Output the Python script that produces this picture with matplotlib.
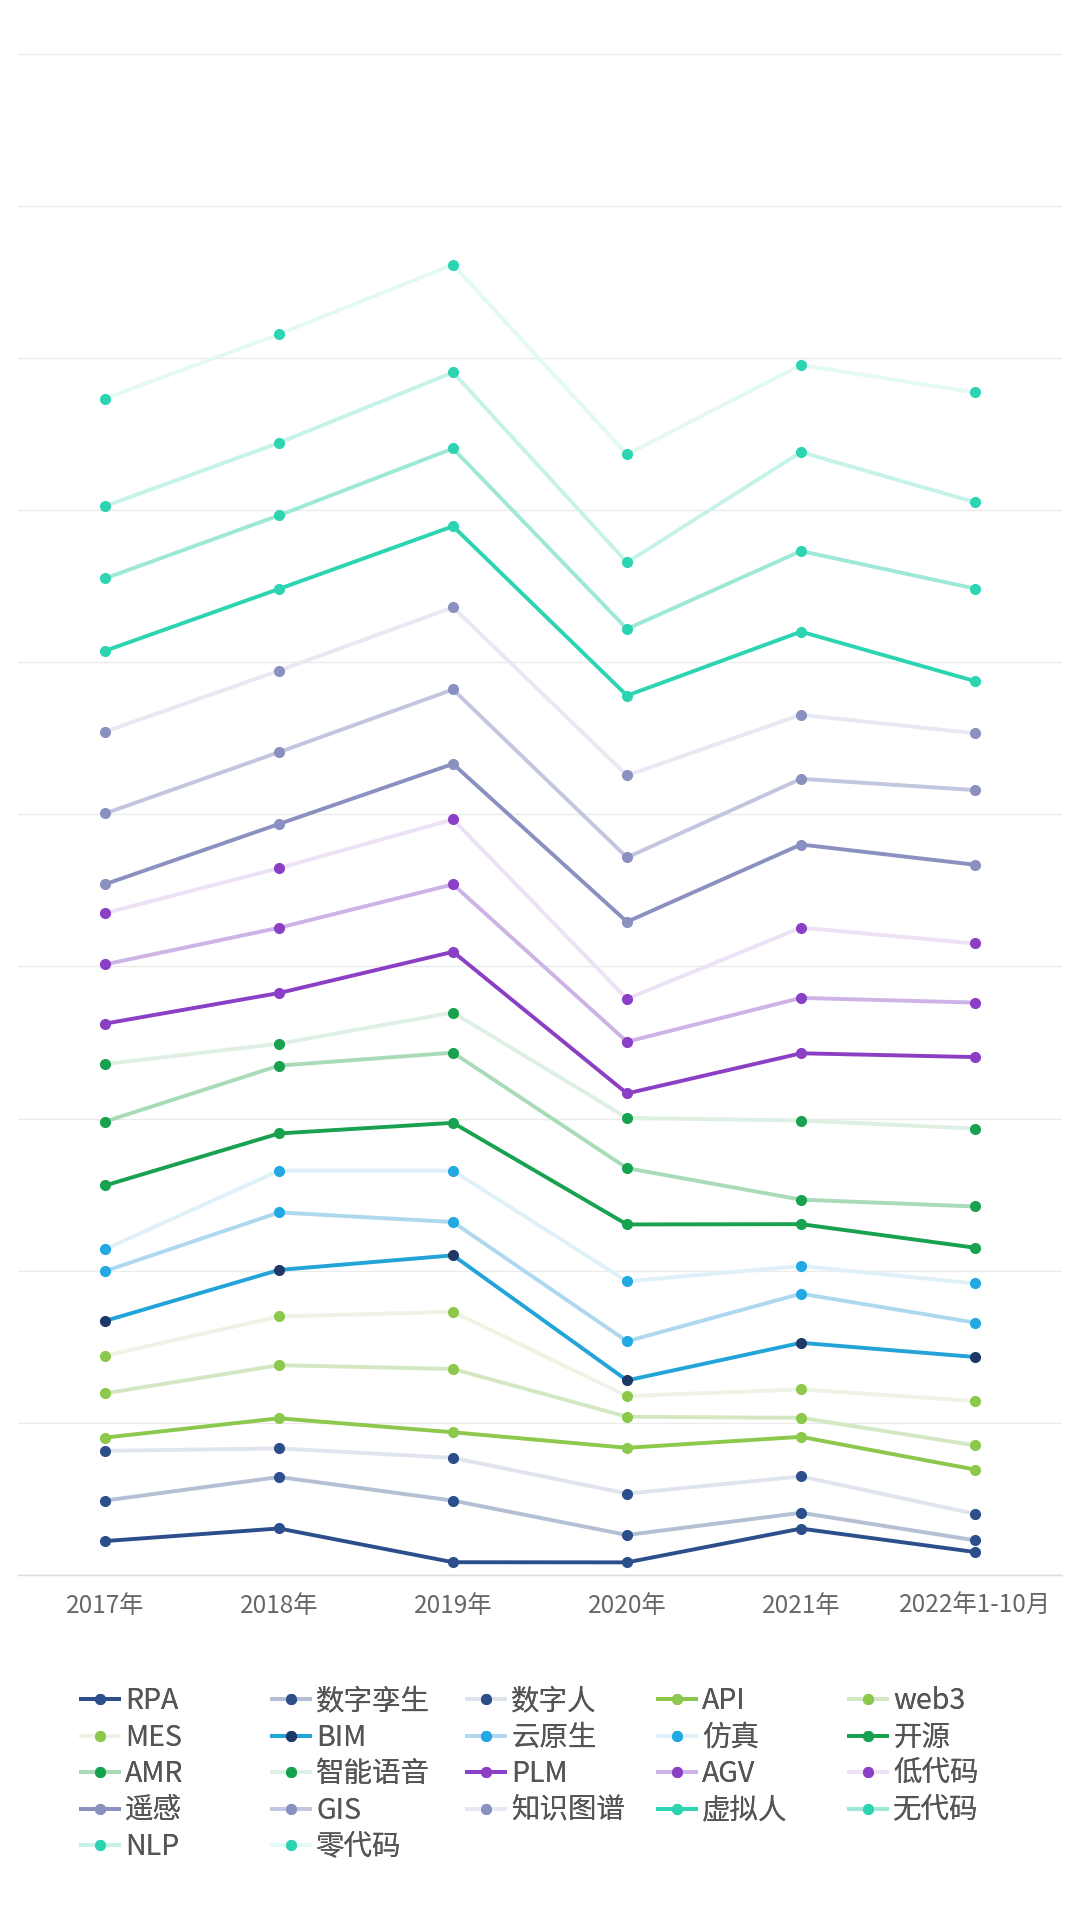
import matplotlib
matplotlib.use("Agg")
import matplotlib.pyplot as plt
import numpy as np

plt.rcParams['font.family'] = ['Noto Sans CJK SC', 'DejaVu Sans']

categories = ["2017年", "2018年", "2019年", "2020年", "2021年", "2022年1-10月"]

series_names = ["RPA", "数字孪生", "数字人", "API", "web3",
                "MES", "BIM", "云原生", "仿真", "开源",
                "AMR", "智能语音", "PLM", "AGV", "低代码",
                "遥感", "GIS", "知识图谱", "虚拟人", "无代码",
                "NLP", "零代码"]

# values per series (stacked)
RPA      = [22.3, 30.6, 8.4, 8.3, 30.5, 15.1]
数字孪生 = [26.6, 33.8, 40.5, 18.0, 10.4, 7.7]
数字人   = [32.7, 18.8, 28.1, 27.2, 23.9, 17.4]
API      = [8.7, 19.8, 16.8, 30.1, 26.0, 29.1]
web3     = [29.1, 34.9, 41.6, 20.4, 12.5, 15.9]
MES      = [24.7, 32.0, 37.6, 13.6, 18.7, 29.1]
BIM      = [22.9, 30.6, 37.1, 10.3, 30.6, 29.0]
云原生   = [32.7, 37.8, 21.9, 25.7, 32.3, 22.6]
仿真     = [14.4, 27.4, 33.7, 39.4, 18.2, 25.7]
开源     = [41.9, 24.5, 31.5, 37.4, 27.5, 23.5]
AMR      = [42.0, 44.6, 46.1, 37.0, 16.1, 27.1]
智能语音 = [37.8, 14.4, 26.4, 33.0, 52.0, 51.2]
PLM      = [26.6, 33.3, 39.9, 16.1, 44.2, 47.0]
AGV      = [38.9, 42.9, 44.3, 34.0, 36.4, 35.8]
低代码   = [33.7, 39.2, 42.7, 28.2, 46.2, 38.9]
遥感     = [19.0, 29.0, 36.5, 50.6, 54.6, 51.7]
GIS      = [46.5, 47.2, 48.9, 42.3, 43.2, 49.1]
知识图谱 = [53.7, 53.6, 54.0, 53.9, 42.1, 37.3]
虚拟人   = [53.2, 53.7, 53.3, 52.5, 54.6, 34.3]
无代码   = [47.6, 48.3, 51.1, 43.8, 53.0, 60.8]
NLP      = [47.5, 47.7, 50.0, 43.7, 65.0, 56.8]
零代码   = [70.7, 71.4, 70.8, 71.0, 57.2, 72.1]

values = [RPA, 数字孪生, 数字人, API, web3, MES, BIM, 云原生, 仿真, 开源,
          AMR, 智能语音, PLM, AGV, 低代码, 遥感, GIS, 知识图谱, 虚拟人, 无代码,
          NLP, 零代码]

line_colors = ["#2c4f8c", "#b3bfd3", "#dfe4ee",
               "#8cc84b", "#d3e8c2", "#edf4e6",
               "#22a4d8", "#aed8ef", "#e0f0f9",
               "#18a250", "#a9dbb9", "#ddf0e3",
               "#8a3fc4", "#cdb3e6", "#ece1f5",
               "#8a91c0", "#c2c6de", "#e7e9f2",
               "#2dd4b2", "#9de8d7", "#c6f3e9", "#e3f9f4"]
marker_colors = ["#2c4f8c", "#2c4f8c", "#2c4f8c",
                 "#8cc84b", "#8cc84b", "#8cc84b",
                 "#1e3868", "#22a8e2", "#22a8e2",
                 "#18a250", "#18a250", "#18a250",
                 "#8a3fc4", "#8a3fc4", "#8a3fc4",
                 "#8a91c0", "#8a91c0", "#8a91c0",
                 "#2dd4b2", "#2dd4b2", "#2dd4b2", "#2dd4b2"]

fig = plt.figure(figsize=(10.8, 19.2), dpi=100)
ax = fig.add_axes([18/1080, 1 - 1575/1920, 1044/1080, (1575 - 53.5)/1920])

x = np.arange(len(categories))
cum = np.cumsum(np.array(values), axis=0)
handles = []
for i, name in enumerate(series_names):
    h, = ax.plot(x, cum[i], color=line_colors[i], lw=2.8, marker='o', ms=7,
                 markerfacecolor=marker_colors[i], markeredgecolor=marker_colors[i],
                 label=name, zorder=3 + i * 0.01, solid_joinstyle='round')
    handles.append(h)

ax.set_xlim(-0.5, len(categories) - 0.5)
ax.set_ylim(0, 1000)
ax.set_yticks(np.arange(0, 1001, 100))
ax.yaxis.grid(True, color="#ebebeb", lw=1.0)
ax.set_axisbelow(True)
ax.tick_params(axis='y', left=False, labelleft=False)
ax.set_xticks(x)
ax.set_xticklabels(categories, fontsize=17.5, color="#666666")
ax.tick_params(axis='x', length=0, pad=13)
for s in ['top', 'right', 'left']:
    ax.spines[s].set_visible(False)
ax.spines['bottom'].set_color("#dcdcdc")
ax.spines['bottom'].set_linewidth(1.0)

col_x = [81, 272, 467, 658, 849]
for c in range(5):
    idx = [c + 5 * r for r in range(5) if c + 5 * r < len(series_names)]
    leg = fig.legend([handles[i] for i in idx], [series_names[i] for i in idx],
                     loc='upper left', bbox_to_anchor=(col_x[c] / 1080, 1 - 1686 / 1920),
                     frameon=False, fontsize=20.5, handlelength=1.35, handletextpad=0.2,
                     labelspacing=0.23, borderpad=0, borderaxespad=0)
    for t in leg.get_texts():
        t.set_color("#555555")
    fig.add_artist(leg)

fig.savefig("out.png", dpi=100, facecolor="white")
